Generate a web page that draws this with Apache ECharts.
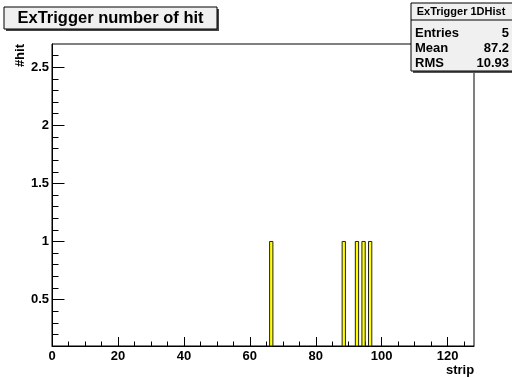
<!DOCTYPE html>
<html><head><meta charset="utf-8">
<script src="https://cdn.jsdelivr.net/npm/echarts@6/dist/echarts.min.js"></script>
<style>html,body{margin:0;padding:0;background:#fff}#c{width:512px;height:378px}</style>
</head><body><div id="c"></div>
<script>
const titleText = 'ExTrigger number of hit';
const statsTitle = 'ExTrigger 1DHist';
const statsLabels = ['Entries', 'Mean', 'RMS'];
const statsValues = ['5', '87.2', '10.93'];
const binLowEdges = [66, 88, 92, 94, 96];
const binCounts = [1, 1, 1, 1, 1];
const xMajorTicks = [0, 20, 40, 60, 80, 100, 120];
const xMinorTicks = [5, 10, 15, 25, 30, 35, 45, 50, 55, 65, 70, 75, 85, 90, 95, 105, 110, 115, 125];
const yMajorTicks = [0.5, 1, 1.5, 2, 2.5];
const yMinorTicks = [0.2, 0.3, 0.4, 0.6, 0.7, 0.8, 0.9, 1.1, 1.2, 1.3, 1.4, 1.6, 1.7, 1.8, 1.9, 2.1, 2.2, 2.3, 2.4, 2.6];
const xName = 'strip', yName = '#hit';
const xMin = 0, xMax = 128, yMin = 0.1, yMax = 2.7;

const FONT = 'Liberation Sans, Arial, Helvetica, sans-serif';
const chart = echarts.init(document.getElementById('c'), null, {renderer: 'canvas'});
const gridPos = {left: 52, top: 44, width: 422, height: 302};

const statsX = 411, statsY = 3;
const statsChildren = [
  {type: 'rect', shape: {x: statsX + 2, y: statsY + 2, width: 120, height: 68}, style: {fill: '#555'}},
  {type: 'rect', shape: {x: statsX, y: statsY, width: 120, height: 68}, style: {fill: '#f0f0f0', stroke: '#000', lineWidth: 1}},
  {type: 'line', shape: {x1: statsX, y1: statsY + 17, x2: 512, y2: statsY + 17}, style: {stroke: '#000', lineWidth: 1}},
  {type: 'text', x: 461, y: statsY + 9, style: {text: statsTitle, font: 'bold 11px ' + FONT, fill: '#000', align: 'center', verticalAlign: 'middle'}}
];
statsLabels.forEach((l, i) => {
  const cy = statsY + 30 + i * 15;
  statsChildren.push({type: 'text', x: statsX + 4, y: cy, style: {text: l, font: 'bold 13px ' + FONT, fill: '#000', align: 'left', verticalAlign: 'middle'}});
  statsChildren.push({type: 'text', x: 509, y: cy, style: {text: statsValues[i], font: 'bold 13px ' + FONT, fill: '#000', align: 'right', verticalAlign: 'middle'}});
});

const option = {
  animation: false,
  backgroundColor: '#fff',
  grid: [
    Object.assign({show: true, borderColor: '#000', borderWidth: 1, backgroundColor: '#fff', outerBoundsMode: 'none', containLabel: false}, gridPos),
    Object.assign({show: false, outerBoundsMode: 'none', containLabel: false}, gridPos)
  ],
  xAxis: [
    {type: 'value', gridIndex: 0, min: xMin, max: xMax,
     name: xName, nameLocation: 'end', nameGap: -28,
     nameTextStyle: {fontFamily: FONT, fontWeight: 'bold', fontSize: 13, color: '#000', verticalAlign: 'top', padding: [18, 0, 0, 0]},
     axisLine: {show: true, lineStyle: {color: '#000', width: 1}},
     axisTick: {show: true, inside: true, length: 9, customValues: xMajorTicks, lineStyle: {color: '#000'}},
     axisLabel: {show: true, customValues: xMajorTicks, margin: 4, fontFamily: FONT, fontWeight: 'bold', fontSize: 13, color: '#000'},
     splitLine: {show: false}},
    {type: 'value', gridIndex: 1, min: xMin, max: xMax,
     axisLine: {show: false},
     axisTick: {show: true, inside: true, length: 4.5, customValues: xMinorTicks, lineStyle: {color: '#000'}},
     axisLabel: {show: false, customValues: xMinorTicks},
     splitLine: {show: false}}
  ],
  yAxis: [
    {type: 'value', gridIndex: 0, min: yMin, max: yMax,
     name: yName, nameLocation: 'end', nameGap: 0, nameRotate: 90,
     nameTextStyle: {fontFamily: FONT, fontWeight: 'bold', fontSize: 13, color: '#000', align: 'right', verticalAlign: 'bottom', padding: [0, 0, 25, 0]},
     axisLine: {show: true, lineStyle: {color: '#000', width: 1}},
     axisTick: {show: true, inside: true, length: 12.5, customValues: yMajorTicks, lineStyle: {color: '#000'}},
     axisLabel: {show: true, customValues: yMajorTicks, margin: 3, fontFamily: FONT, fontWeight: 'bold', fontSize: 13, color: '#000'},
     splitLine: {show: false}},
    {type: 'value', gridIndex: 1, min: yMin, max: yMax,
     axisLine: {show: false},
     axisTick: {show: true, inside: true, length: 6.5, customValues: yMinorTicks, lineStyle: {color: '#000'}},
     axisLabel: {show: false, customValues: yMinorTicks},
     splitLine: {show: false}}
  ],
  series: [{
    type: 'custom', xAxisIndex: 0, yAxisIndex: 0,
    data: binLowEdges.map((x, i) => [x, binCounts[i]]),
    encode: {x: 0, y: 1},
    renderItem: function (params, api) {
      const lo = api.value(0), c = api.value(1);
      const p1 = api.coord([lo, c]);
      const p2 = api.coord([lo + 1, yMin]);
      return {type: 'rect', shape: {x: p1[0], y: p1[1], width: p2[0] - p1[0], height: p2[1] - p1[1]},
              style: {fill: '#ffff00', stroke: '#222', lineWidth: 1}};
    }
  }],
  graphic: [
    {type: 'group', z: 100, children: [
      {type: 'rect', shape: {x: 6, y: 9, width: 213, height: 22}, style: {fill: '#444'}},
      {type: 'rect', shape: {x: 4, y: 7, width: 213, height: 22}, style: {fill: '#f0f0f0', stroke: '#000', lineWidth: 1}},
      {type: 'text', x: 110.5, y: 18.5, style: {text: titleText, font: 'bold 16.5px ' + FONT, fill: '#000', align: 'center', verticalAlign: 'middle'}}
    ]},
    {type: 'group', z: 100, children: statsChildren}
  ]
};
chart.setOption(option);
</script>
</body></html>
